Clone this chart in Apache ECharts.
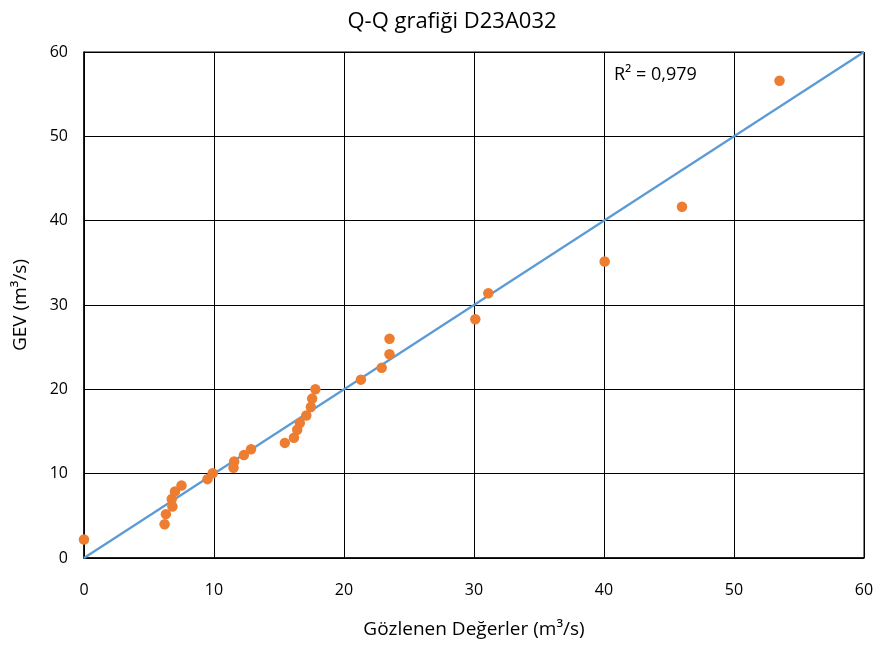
<!DOCTYPE html>
<html><head><meta charset="utf-8">
<script src="https://cdn.jsdelivr.net/npm/echarts@6/dist/echarts.min.js"></script>
<style>html,body{margin:0;padding:0;background:#fff}#c{width:880px;height:648px}</style>
</head><body><div id="c"></div>
<script>
const observed = [0, 6.2, 6.3, 6.8, 6.75, 7.0, 7.5, 9.5, 9.9, 11.5, 11.55, 12.3, 12.85, 15.45, 16.15, 16.4, 16.6, 17.1, 17.45, 17.55, 17.8, 21.3, 22.9, 23.5, 23.5, 30.1, 31.1, 40.05, 46.0, 53.5];
const gev      = [2.2, 4.0, 5.2, 6.1, 7.0, 7.9, 8.6, 9.35, 10.05, 10.7, 11.45, 12.2, 12.9, 13.65, 14.25, 15.2, 16.0, 16.9, 17.9, 18.9, 20.0, 21.15, 22.55, 24.15, 26.0, 28.3, 31.4, 35.15, 41.65, 56.6];
const trendX = [0, 60];
const trendY = [0, 60];
const xTicks = [0, 10, 20, 30, 40, 50, 60];
const yTicks = [0, 10, 20, 30, 40, 50, 60];
const titleText = 'Q-Q grafiği D23A032';
const xName = 'Gözlenen Değerler (m³/s)';
const yName = 'GEV (m³/s)';
const r2Text = 'R² = 0,979';

const font = 'Open Sans, Noto Sans, sans-serif';
const chart = echarts.init(document.getElementById('c'));
chart.setOption({
  animation: false,
  title: { text: titleText, left: 447, top: 6, textAlign: 'center',
    textStyle: { fontFamily: font, fontSize: 22, fontWeight: 'normal', color: '#000' } },
  grid: { left: 84, right: 16, top: 52, bottom: 90, show: true, borderColor: '#000', borderWidth: 1 },
  xAxis: { type: 'value', min: xTicks[0], max: xTicks[xTicks.length-1], interval: 10,
    name: xName, nameLocation: 'middle', nameGap: 62,
    nameTextStyle: { fontFamily: font, fontSize: 19, color: '#000' },
    axisLine: { show: true, lineStyle: { color: '#000', width: 1.5 } },
    axisTick: { show: false },
    axisLabel: { fontFamily: font, fontSize: 16, color: '#000', margin: 24 },
    splitLine: { show: true, lineStyle: { color: '#000', width: 1 } } },
  yAxis: { type: 'value', min: yTicks[0], max: yTicks[yTicks.length-1], interval: 10,
    name: yName, nameLocation: 'middle', nameGap: 54, nameRotate: 90,
    nameTextStyle: { fontFamily: font, fontSize: 19, color: '#000' },
    axisLine: { show: true, lineStyle: { color: '#000', width: 1.5 } },
    axisTick: { show: false },
    axisLabel: { fontFamily: font, fontSize: 16, color: '#000', margin: 16 },
    splitLine: { show: true, lineStyle: { color: '#000', width: 1 } } },
  graphic: [{ type: 'text', left: 614, top: 66,
    style: { text: r2Text, fontFamily: font, fontSize: 18, fill: '#000' } }],
  series: [
    { type: 'line', data: trendX.map((x, i) => [x, trendY[i]]), showSymbol: false, symbol: 'none',
      lineStyle: { color: '#5B9BD5', width: 2.2 }, z: 3 },
    { type: 'scatter', data: observed.map((x, i) => [x, gev[i]]), symbolSize: 10.5,
      itemStyle: { color: '#ED7D31', opacity: 1 }, z: 4 }
  ]
});
</script></body></html>
